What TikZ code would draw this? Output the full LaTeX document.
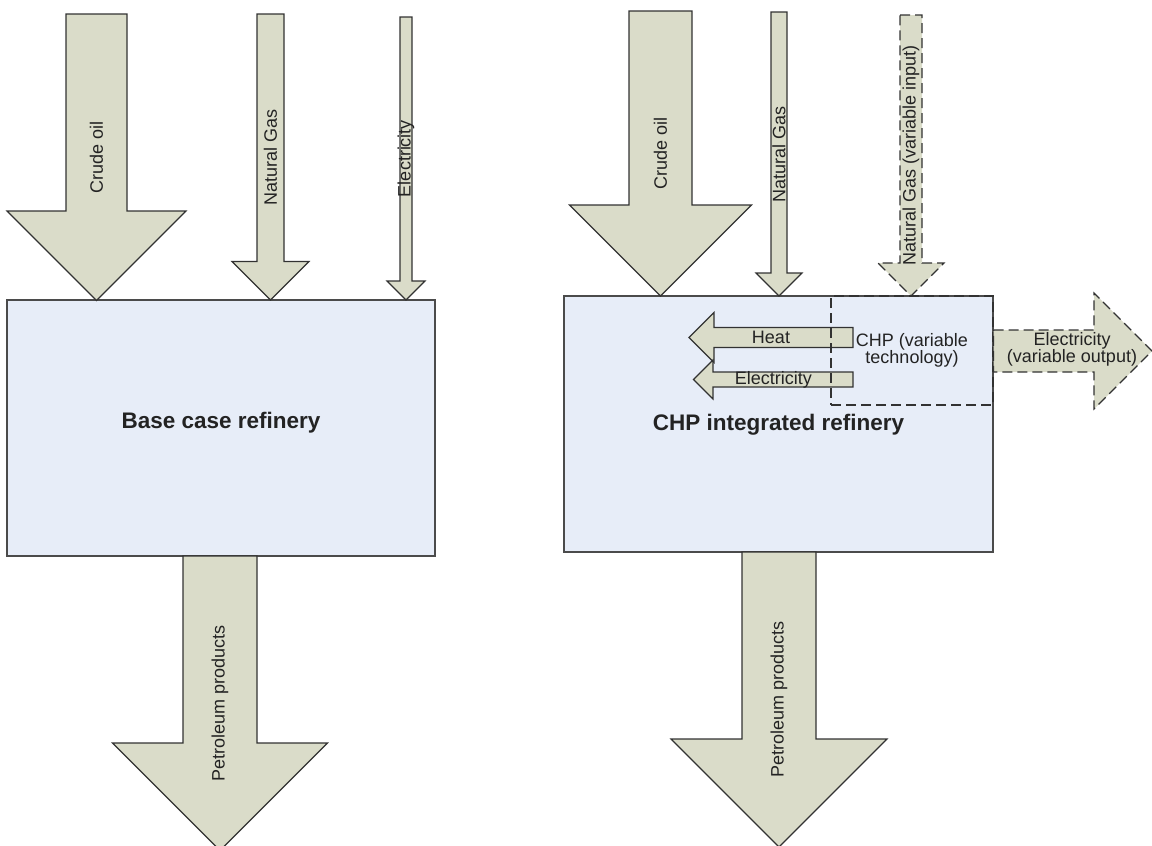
\documentclass[tikz,border=0pt]{standalone}
\usepackage{fontspec}
\setmainfont{Liberation Sans}
\usetikzlibrary{positioning}
\definecolor{flowFill}{RGB}{218, 220, 201}
\definecolor{flowLine}{RGB}{50, 50, 50}
\definecolor{boxFill}{RGB}{231, 237, 248}
\definecolor{boxLine}{RGB}{75, 75, 75}
\definecolor{textGray}{RGB}{35, 35, 35}

% down flow: style, name, x, half shaft, top, shoulder, half head, text
\newcommand{\downflow}[8]{%
  \draw[#1] (#3-#4,#5) -- (#3+#4,#5) -- (#3+#4,#6) -- (#3+#7,#6) -- (#3,#6+#7)
    -- (#3-#7,#6) -- (#3-#4,#6) -- cycle;
  \node[flowlabel, rotate=90] (#2) at (#3,{(#5+#6+#7)/2}) {#8};
}
% left flow: style, name, shoulder x, y, half shaft, half head, tail x, text
\newcommand{\leftflow}[8]{%
  \draw[#1] (#7,#4-#5) -- (#3,#4-#5) -- (#3,#4-#6) -- (#3-#6,#4) -- (#3,#4+#6)
    -- (#3,#4+#5) -- (#7,#4+#5) -- cycle;
  \node[flowlabel] (#2) at ({(#3-#6+#7)/2},#4) {#8};
}

\begin{document}
\begin{tikzpicture}[
    x=1pt, y=-1pt,
    % Refinery Block
    refinery/.style={
        draw=boxLine,
        fill=boxFill,
        rectangle,
        line width=1.4pt,
        inner sep=0pt
    },
    title/.style={
        inner sep=0pt,
        font=\fontsize{22.5}{24}\selectfont\bfseries\color{textGray}
    },
    % CHP Unit (variable)
    chpunit/.style={
        draw=flowLine,
        dash pattern=on 10pt off 5pt,
        rectangle,
        line width=1.2pt,
        inner sep=0pt,
        align=center,
        font=\fontsize{18}{17}\selectfont\color{textGray}
    },
    % Energy / Material Flow
    flow/.style={
        draw=flowLine,
        fill=flowFill,
        line width=1.1pt,
        line join=miter
    },
    flowdash/.style={
        flow,
        dash pattern=on 10pt off 5pt
    },
    flowlabel/.style={
        inner sep=0pt,
        align=center,
        font=\fontsize{18}{17}\selectfont\color{textGray}
    }
]
    \useasboundingbox (0,0) rectangle (1152,846);
    \clip (0,0) rectangle (1152,846);

    % Refinery boxes
    \node (base) [refinery, minimum width=428pt, minimum height=256pt] at (221,428) {};
    \node (chpref) [refinery, minimum width=429pt, minimum height=256pt] at (778.5,424) {};
    \node (baseT) [title, yshift=5pt] at (base.center) {Base case refinery};
    \node (chprefT) [title, yshift=-1pt] at (chpref.center) {CHP integrated refinery};

    % Base case flows
    \downflow{flow}{crudeA}{96.5}{30.5}{14}{211}{89.5}{Crude oil}
    \downflow{flow}{gasA}{270.5}{13.5}{14}{261.5}{38.5}{Natural Gas}
    \downflow{flow}{elecA}{406}{6}{17}{281}{19}{Electricity}
    \downflow{flow}{prodA}{220}{37}{556}{743}{107.5}{Petroleum products}

    % CHP integrated flows
    \downflow{flow}{crudeB}{660.5}{31.5}{11}{205}{91}{Crude oil}
    \downflow{flow}{gasB}{779}{8}{12}{273}{23}{Natural Gas}
    \downflow{flowdash}{gasvarB}{911}{11}{15}{263}{33}{Natural Gas (variable input)}
    \downflow{flow}{prodB}{779}{37}{552}{739}{108}{Petroleum products}
    \leftflow{flow}{heatB}{714}{337.5}{10}{25}{853}{Heat}
    \leftflow{flow}{elecB}{713}{379.5}{7.5}{19.5}{853}{Electricity}

    % CHP unit and its output
    \node (chp) [chpunit, minimum width=162pt, minimum height=109pt] at (912,350.5) {CHP (variable\\technology)};
    \draw [flowdash] (chp.east |- 0,330) -- (1094,330) -- (1094,293) -- (1152,351)
        -- (1094,409) -- (1094,372) -- (chp.east |- 0,372) -- cycle;
    \node (elecout) [flowlabel] at (1072,349) {Electricity\\(variable output)};

\end{tikzpicture}
\end{document}
